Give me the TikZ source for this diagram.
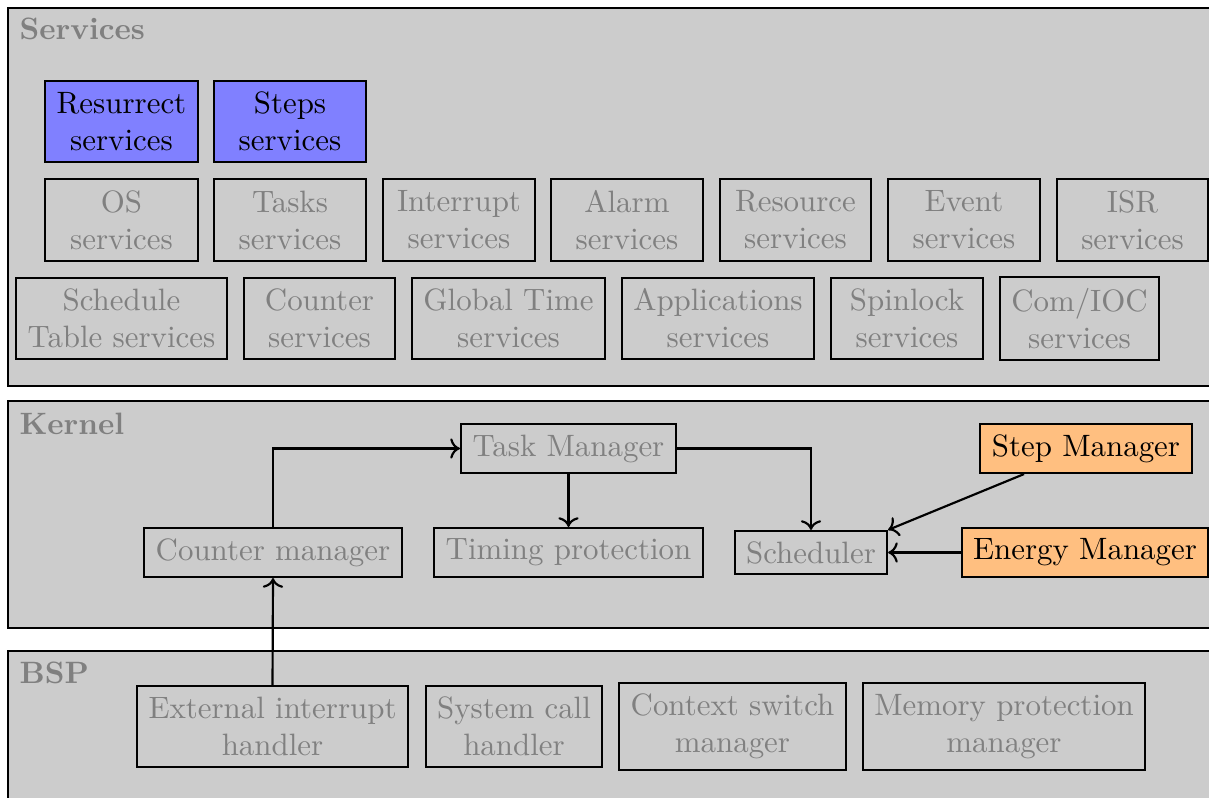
\documentclass[tikz,border=0pt]{standalone}
\usetikzlibrary{arrows.meta}
\def\pxu{0.3236pt}
\newcommand\bx[7]{\node[#1, minimum width={(#4-#2)*\pxu}, minimum height={(#5-#3)*\pxu}] (#6) at ({(#2+#4)/2},{(#3+#5)/2}) {#7};}
\tikzset{
  panel/.style={draw=black, fill=black!20, line width=0.7pt},
  plabel/.style={anchor=base west, inner sep=0pt, text=black!50, font=\bfseries},
  gbox/.style={draw=black, line width=0.7pt, inner sep=0pt, align=center, text=black!50},
  bbox/.style={gbox, fill=blue!50, text=black},
  obox/.style={gbox, fill=orange!50, text=black},
  conn/.style={->, line width=0.7pt}
}
\begin{document}
\begin{tikzpicture}[x=\pxu, y=-\pxu]
\useasboundingbox (0,0) rectangle (1209,798);
\clip (0,0) rectangle (1209,798);
% panels
\draw[panel] (8,8) rectangle (1220,386);
\draw[panel] (8,401) rectangle (1220,628);
\draw[panel] (8,651) rectangle (1220,810);
\node[plabel] (lserv) at (19,40) {Services};
\node[plabel] (lkern) at (19,434) {Kernel};
\node[plabel] (lbsp) at (19,683) {BSP};
% services
\bx{bbox}{45}{81}{198}{162}{res}{Resurrect\\services}
\bx{bbox}{214}{81}{366}{162}{steps}{Steps\\services}
\bx{gbox}{45}{179}{198}{261}{os}{OS\\services}
\bx{gbox}{214}{179}{366}{261}{tasks}{Tasks\\services}
\bx{gbox}{383}{179}{535}{261}{intr}{Interrupt\\services}
\bx{gbox}{551}{179}{703}{261}{alarm}{Alarm\\services}
\bx{gbox}{720}{179}{871}{261}{resource}{Resource\\services}
\bx{gbox}{888}{179}{1040}{261}{event}{Event\\services}
\bx{gbox}{1057}{179}{1208}{261}{isr}{ISR\\services}
\bx{gbox}{16}{278}{227}{359}{sched}{Schedule\\Table services}
\bx{gbox}{244}{278}{395}{359}{counter}{Counter\\services}
\bx{gbox}{412}{278}{605}{359}{gtime}{Global Time\\services}
\bx{gbox}{622}{278}{814}{359}{apps}{Applications\\services}
\bx{gbox}{831}{278}{983}{359}{spin}{Spinlock\\services}
\bx{gbox}{1000}{277}{1159}{360}{com}{Com/IOC\\services}
% kernel
\bx{gbox}{461}{424}{676}{473}{taskm}{Task Manager}
\bx{gbox}{144}{528}{402}{577}{cntm}{Counter manager}
\bx{gbox}{434}{528}{703}{577}{timing}{Timing protection}
\bx{gbox}{735}{531}{887}{574}{scheduler}{Scheduler}
\bx{obox}{980}{424}{1192}{473}{stepm}{Step Manager}
\bx{obox}{962}{528}{1208}{577}{energym}{Energy Manager}
% bsp
\bx{gbox}{137}{686}{408}{767}{ext}{External interrupt\\handler}
\bx{gbox}{426}{686}{602}{767}{syscall}{System call\\handler}
\bx{gbox}{619}{683}{846}{770}{ctx}{Context switch\\manager}
\bx{gbox}{863}{683}{1145}{770}{mem}{Memory protection\\manager}
% connectors
\draw[conn] (cntm.north) |- (taskm.west);
\draw[conn] (taskm.east) -| (scheduler.north);
\draw[conn] (taskm.south) -- (timing.north);
\draw[conn] ([xshift=-62*\pxu]stepm.south) -- (scheduler.north east);
\draw[conn] (energym.west) -- (scheduler.east);
\draw[conn] (ext.north) -- (cntm.south);
\end{tikzpicture}
\end{document}
